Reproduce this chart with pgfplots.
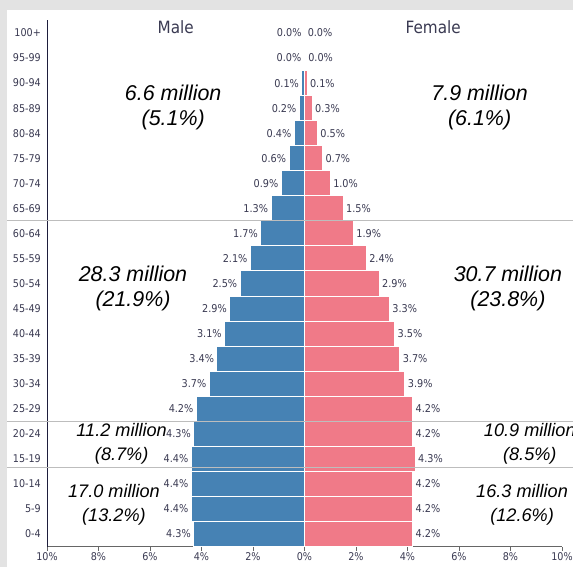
\documentclass[border=0pt]{standalone}
\usepackage{pgfplots}
\pgfplotsset{compat=1.18}
\usepackage{pgfplotstable}
\usetikzlibrary{calc}
\usepackage{fontspec}
\setmainfont{DejaVu Sans}
\newfontfamily\cond{DejaVu Sans Condensed}
\newfontfamily\ann{Liberation Sans}
\definecolor{male}{HTML}{4682B4}
\definecolor{female}{HTML}{F07A88}
\definecolor{txt}{HTML}{3A3A52}
\definecolor{spine}{HTML}{1E1E3C}
\definecolor{bgray}{HTML}{E3E3E3}
\definecolor{sep}{HTML}{BDBDBD}

\pgfplotstableread{
y m f
0 4.3 4.2
1 4.4 4.2
2 4.4 4.2
3 4.4 4.3
4 4.3 4.2
5 4.2 4.2
6 3.7 3.9
7 3.4 3.7
8 3.1 3.5
9 2.9 3.3
10 2.5 2.9
11 2.1 2.4
12 1.7 1.9
13 1.3 1.5
14 0.9 1.0
15 0.6 0.7
16 0.4 0.5
17 0.2 0.3
18 0.1 0.1
19 0.01 0.03
20 0.0 0.01
}\pop

\begin{document}
\begin{tikzpicture}
\useasboundingbox (0,0) rectangle (573bp,567bp);
\fill[bgray] (0,0) rectangle (573bp,567bp);
\fill[white] (7bp,0) rectangle (573bp,557bp);
\begin{axis}[
  at={(47bp,20.5bp)}, anchor=south west,
  scale only axis, width=515bp, height=526bp,
  xmin=-10, xmax=10, ymin=-0.5, ymax=20.5,
  clip=false,
  xbar, bar width=1, bar shift=0pt,
  axis x line*=bottom, axis y line*=left,
  x axis line style={draw=gray!80!black, line width=0.8bp},
  y axis line style={draw=spine, line width=0.8bp},
  xtick={-10,-8,...,10},
  xticklabels={10\%,8\%,6\%,4\%,2\%,0\%,2\%,4\%,6\%,8\%,10\%},
  ytick={0,...,20},
  yticklabels={0-4,5-9,10-14,15-19,20-24,25-29,30-34,35-39,40-44,45-49,50-54,55-59,60-64,65-69,70-74,75-79,80-84,85-89,90-94,95-99,100+},
  xtick align=outside,
  x tick style={draw=gray!80!black, line width=0.8bp},
  major tick length=4bp,
  y tick style={draw=none},
  ticklabel style={font=\cond\fontsize{10.7}{12}\selectfont, text=txt},
  yticklabel style={inner sep=2bp},
  xticklabel style={inner sep=2bp},
  nodes near coords={\pgfmathprintnumber[fixed,fixed zerofill,precision=1,assume math mode=true]{\pgfplotspointmeta}\%},
  nodes near coords style={font=\cond\fontsize{10.8}{12}\selectfont, text=txt, inner sep=2.5bp},
]
\addplot[fill=male, draw=white, line width=1bp, point meta=explicit,
  every node near coord/.append style={anchor=east}]
  table[x expr=-\thisrow{m}, y=y, meta=m] {\pop};
\addplot[fill=female, draw=white, line width=1bp, point meta=explicit,
  every node near coord/.append style={anchor=west}]
  table[x=f, y=y, meta=f] {\pop};

\coordinate (s1) at (axis cs:0,12.5);
\coordinate (s2) at (axis cs:0,4.5);
\coordinate (s3) at (axis cs:0,2.65);

\node[font=\cond\fontsize{17}{20}\selectfont, text=txt] at (axis cs:-5,20.25) {Male};
\node[font=\cond\fontsize{17}{20}\selectfont, text=txt] at (axis cs:5,20.25) {Female};

\tikzset{ann/.style={font=\ann\itshape\fontsize{21.5}{25}\selectfont, align=center, text=black},
         anns/.style={font=\ann\itshape\fontsize{18.2}{23.5}\selectfont, align=center, text=black}}
\node[ann] at (axis cs:-5.1,17.02) {6.6 million\\(5.1\%)};
\node[ann] at (axis cs:6.8,17.02) {7.9 million\\(6.1\%)};
\node[ann] at (axis cs:-6.66,9.8) {28.3 million\\(21.9\%)};
\node[ann] at (axis cs:7.9,9.8) {30.7 million\\(23.8\%)};
\node[anns] at (axis cs:-7.1,3.6) {11.2 million\\(8.7\%)};
\node[anns] at (axis cs:8.75,3.6) {10.9 million\\(8.5\%)};
\node[anns] at (axis cs:-7.4,1.16) {17.0 million\\(13.2\%)};
\node[anns] at (axis cs:8.45,1.16) {16.3 million\\(12.6\%)};
\end{axis}
\foreach \s in {s1,s2,s3}{
  \draw[sep, line width=1bp] let \p1=(\s) in (7bp,\y1) -- (573bp,\y1);
}
\end{tikzpicture}
\end{document}
